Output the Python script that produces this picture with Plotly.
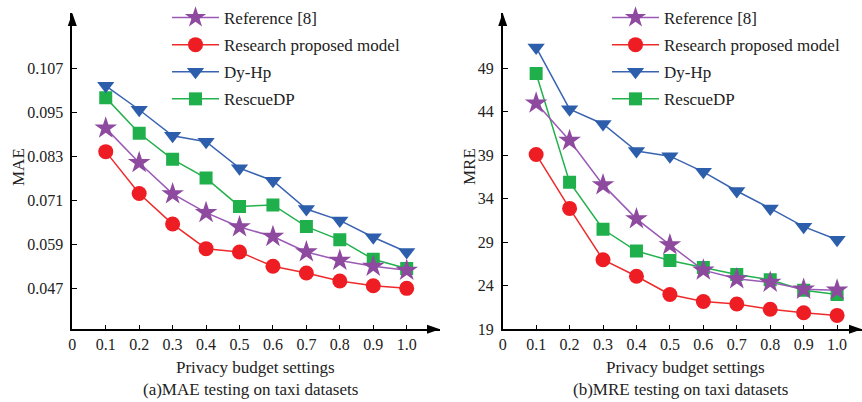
import plotly.graph_objects as go

# ---------------- data ----------------
budget = [0.1, 0.2, 0.3, 0.4, 0.5, 0.6, 0.7, 0.8, 0.9, 1.0]
x_tick_vals = [0, 0.1, 0.2, 0.3, 0.4, 0.5, 0.6, 0.7, 0.8, 0.9, 1.0]
x_tick_text = ["0", "0.1", "0.2", "0.3", "0.4", "0.5", "0.6", "0.7", "0.8", "0.9", "1.0"]

# (a) MAE
mae_reference8 = [0.0907, 0.0813, 0.0728, 0.0677, 0.0638, 0.0612, 0.0570, 0.0547, 0.0531, 0.0520]
mae_proposed = [0.0843, 0.0729, 0.0646, 0.0579, 0.0570, 0.0531, 0.0513, 0.0491, 0.0478, 0.0471]
mae_dyhp = [0.1022, 0.0957, 0.0886, 0.0870, 0.0798, 0.0764, 0.0687, 0.0656, 0.0610, 0.0570]
mae_rescuedp = [0.0990, 0.0893, 0.0822, 0.0771, 0.0694, 0.0698, 0.0639, 0.0603, 0.0550, 0.0525]
mae_tick_vals = [0.047, 0.059, 0.071, 0.083, 0.095, 0.107]
mae_tick_text = ["0.047", "0.059", "0.071", "0.083", "0.095", "0.107"]

# (b) MRE
mre_reference8 = [45.0, 40.7, 35.6, 31.7, 28.7, 25.8, 24.8, 24.4, 23.6, 23.5]
mre_proposed = [39.1, 32.9, 27.0, 25.1, 23.0, 22.2, 21.9, 21.3, 20.9, 20.6]
mre_dyhp = [51.4, 44.3, 42.6, 39.5, 38.9, 37.1, 34.9, 32.9, 30.8, 29.3]
mre_rescuedp = [48.4, 35.9, 30.5, 28.0, 26.9, 26.1, 25.3, 24.7, 23.5, 23.0]
mre_tick_vals = [19, 24, 29, 34, 39, 44, 49]
mre_tick_text = ["19", "24", "29", "34", "39", "44", "49"]

series_names = ["Reference [8]", "Research proposed model", "Dy-Hp", "RescueDP"]

# ---------------- styling ----------------
W, H = 862, 402
FONT = "Liberation Serif, Times New Roman, serif"
TXT = "#222"

def px(x):
    return x / W

def py(y):
    return 1 - y / H

styles = {
    "Reference [8]": dict(line="#9B59B6", marker="#8E4A9E", symbol="star", size=17),
    "Research proposed model": dict(line="#EE2A2A", marker="#EE1D24", symbol="circle", size=15),
    "Dy-Hp": dict(line="#3A64B2", marker="#2D5EAC", symbol="triangle-down", size=15),
    "RescueDP": dict(line="#22B14C", marker="#1FAF4B", symbol="square", size=13),
}
legend_rank = {n: i + 1 for i, n in enumerate(series_names)}
draw_order = ["RescueDP", "Dy-Hp", "Reference [8]", "Research proposed model"]

panels = [
    dict(xa="x", ya="y", legend="legend", grp="a",
         data={"Reference [8]": mae_reference8, "Research proposed model": mae_proposed,
               "Dy-Hp": mae_dyhp, "RescueDP": mae_rescuedp}),
    dict(xa="x2", ya="y2", legend="legend2", grp="b",
         data={"Reference [8]": mre_reference8, "Research proposed model": mre_proposed,
               "Dy-Hp": mre_dyhp, "RescueDP": mre_rescuedp}),
]

fig = go.Figure()
for p in panels:
    for name in draw_order:
        s = styles[name]
        fig.add_trace(go.Scatter(
            x=budget, y=p["data"][name], name=name, mode="lines+markers",
            xaxis=p["xa"], yaxis=p["ya"], legend=p["legend"],
            legendgroup=p["grp"] + name, legendrank=legend_rank[name],
            line=dict(color=s["line"], width=1.5),
            marker=dict(symbol=s["symbol"], size=s["size"], color=s["marker"], line=dict(width=0)),
        ))

# axes geometry (page pixels)
L_X0, L_X1 = 72.3, 440.0
R_X0, R_X1 = 502.7, 862.0
Y_BOT, Y_TOP = 329.3, 13.0
x_per_unit = 334.4

common_x = dict(
    showline=True, linecolor="black", linewidth=1.6, showgrid=False, zeroline=False,
    automargin=False,
    ticks="inside", ticklen=5, tickwidth=1.3, tickcolor="black",
    tickvals=x_tick_vals, ticktext=x_tick_text, ticklabelstandoff=0,
    tickfont=dict(family=FONT, size=16, color=TXT),
)
common_y = dict(
    showline=True, linecolor="black", linewidth=1.6, showgrid=False, zeroline=False,
    automargin=False,
    ticks="inside", ticklen=5, tickwidth=1.3, tickcolor="black", ticklabelstandoff=4,
    tickfont=dict(family=FONT, size=16, color=TXT),
)

legend_common = dict(xanchor="left", yanchor="top", bgcolor="rgba(0,0,0,0)",
                     font=dict(family=FONT, size=17, color=TXT), itemwidth=47, tracegroupgap=2,
                     traceorder="grouped")

fig.update_layout(
    width=W, height=H, autosize=False,
    margin=dict(l=0, r=0, t=0, b=0),
    paper_bgcolor="white", plot_bgcolor="white",
    showlegend=True,
    xaxis=dict(domain=[px(L_X0), px(L_X1)], range=[0, (L_X1 - L_X0) / x_per_unit], anchor="y", **common_x),
    xaxis2=dict(domain=[px(R_X0), min(1.0, px(R_X1))], range=[0, (R_X1 - R_X0) / x_per_unit], anchor="y2", **common_x),
    yaxis=dict(domain=[py(Y_BOT), py(Y_TOP)], range=[0.03596, 0.12203], anchor="x",
               tickvals=mae_tick_vals, ticktext=mae_tick_text, **common_y),
    yaxis2=dict(domain=[py(Y_BOT), py(Y_TOP)], range=[19, 55.36], anchor="x2",
                tickvals=mre_tick_vals, ticktext=mre_tick_text, **common_y),
    legend=dict(x=px(167), y=1.0, **legend_common),
    legend2=dict(x=px(607), y=1.0, **legend_common),
)

# axis titles
for cx, text in [(18, "MAE"), (469, "MRE")]:
    fig.add_annotation(x=px(cx), y=py(167), xref="paper", yref="paper", text=text, textangle=-90,
                       showarrow=False, xanchor="center", yanchor="middle",
                       font=dict(family=FONT, size=17, color=TXT))
for cx in [255, 685]:
    fig.add_annotation(x=px(cx), y=py(367), xref="paper", yref="paper", text="Privacy budget settings",
                       showarrow=False, xanchor="center", yanchor="middle",
                       font=dict(family=FONT, size=17, color=TXT))

# captions
for cx, text in [(251, "(a)MAE testing on taxi datasets"),
                 (680, "(b)MRE testing on taxi datasets")]:
    fig.add_annotation(x=px(cx), y=py(389), xref="paper", yref="paper", text=text,
                       showarrow=False, xanchor="center", yanchor="middle",
                       font=dict(family=FONT, size=17, color=TXT))

# arrowheads at axis ends
def tri(points):
    pts = [f"{px(a):.5f},{py(b):.5f}" for a, b in points]
    return "M " + " L ".join(pts) + " Z"

for x0, x1 in [(L_X0, L_X1), (R_X0, R_X1)]:
    fig.add_shape(type="path", xref="paper", yref="paper",
                  path=tri([(x0, Y_TOP), (x0 - 4.5, Y_TOP + 13), (x0 + 4.5, Y_TOP + 13)]),
                  fillcolor="black", line=dict(width=0))
    fig.add_shape(type="path", xref="paper", yref="paper",
                  path=tri([(x1, Y_BOT), (x1 - 13, Y_BOT - 4.5), (x1 - 13, Y_BOT + 4.5)]),
                  fillcolor="black", line=dict(width=0))

fig.write_html("out.html", config={"displayModeBar": False},
               post_script="document.body.style.margin='0px';document.body.style.overflow='hidden';")
